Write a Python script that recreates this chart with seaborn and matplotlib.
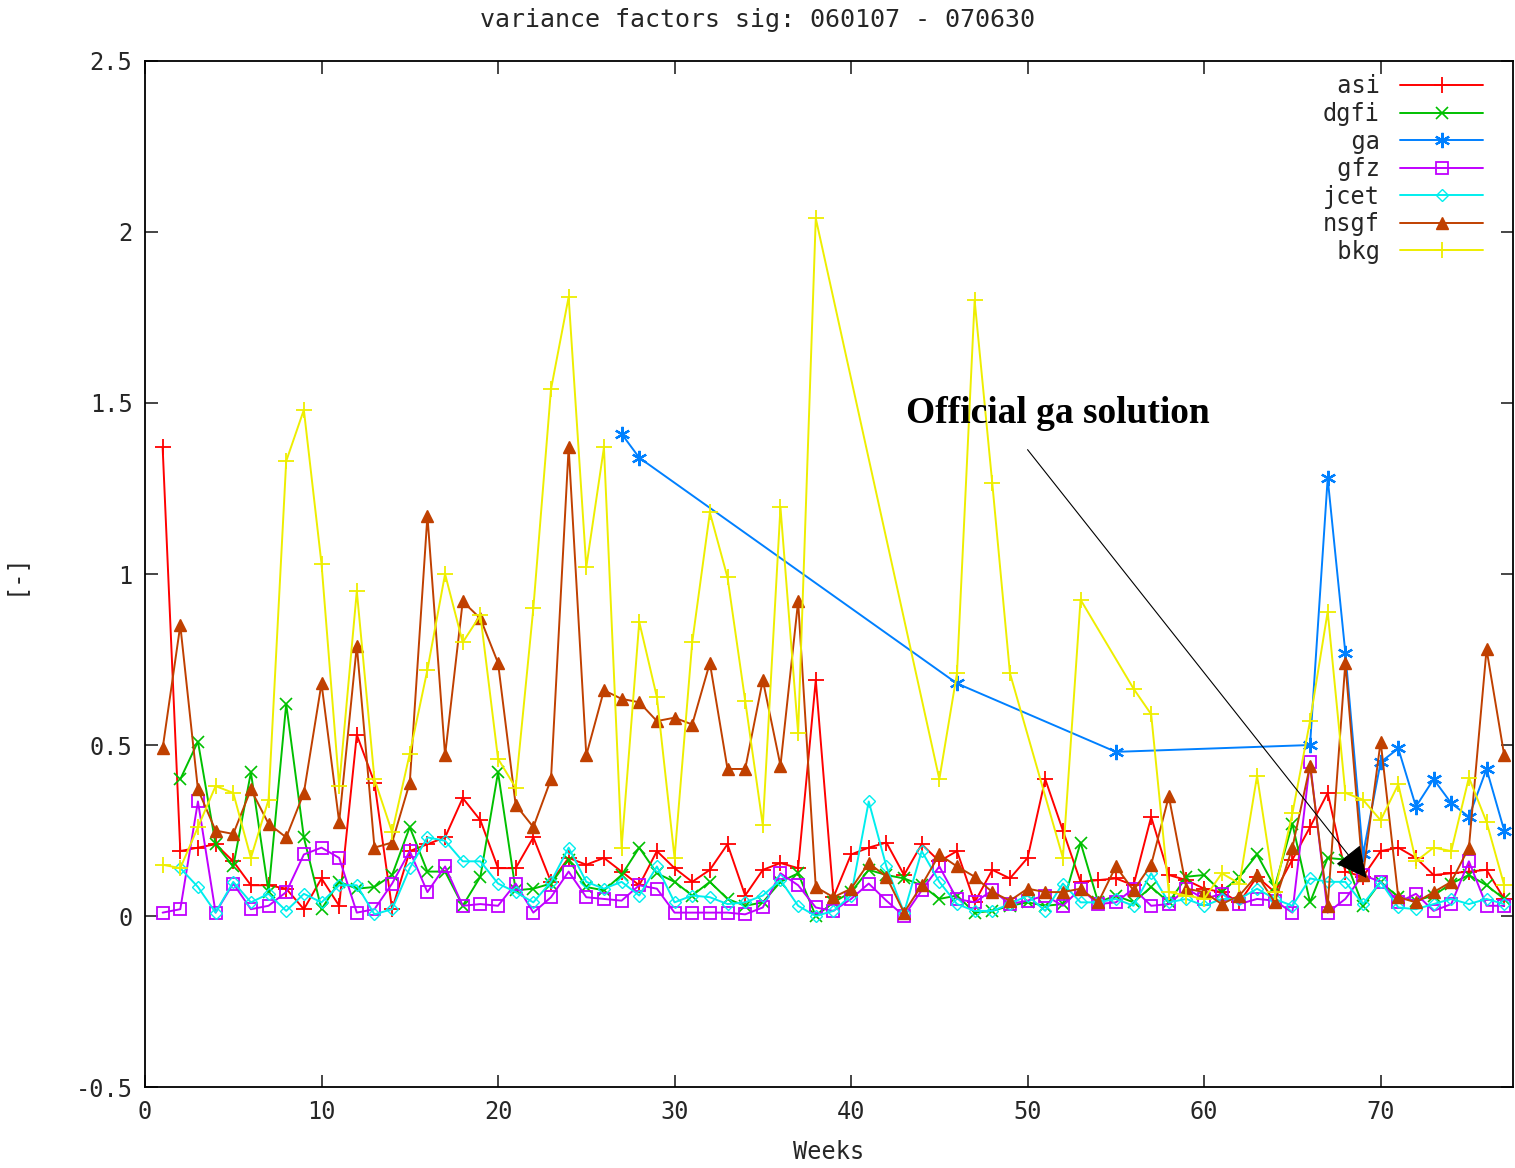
import numpy as np
import pandas as pd
import matplotlib
matplotlib.use('Agg')
from matplotlib import pyplot as plt
import seaborn as sns

# weekly variance factors
asi_w = list(range(1, 78))
asi = [1.37, 0.19, 0.20, 0.21, 0.16, 0.09, 0.09, 0.08, 0.02, 0.11,
       0.03, 0.53, 0.39, 0.02, 0.19, 0.21, 0.23, 0.345, 0.28, 0.14,
       0.14, 0.23, 0.10, 0.17, 0.15, 0.17, 0.13, 0.09, 0.19, 0.14,
       0.10, 0.135, 0.21, 0.06, 0.135, 0.155, 0.14, 0.69, 0.055, 0.18,
       0.20, 0.215, 0.12, 0.21, 0.16, 0.19, 0.04, 0.135, 0.11, 0.17,
       0.40, 0.25, 0.10, 0.105, 0.11, 0.09, 0.29, 0.12, 0.105, 0.08,
       0.07, 0.04, 0.115, 0.07, 0.165, 0.26, 0.36, 0.13, 0.115, 0.19,
       0.20, 0.17, 0.12, 0.125, 0.13, 0.135, 0.05]

dgfi_w = list(range(2, 78))
dgfi = [0.40, 0.51, 0.21, 0.145, 0.42, 0.07, 0.62, 0.23, 0.02,
        0.10, 0.08, 0.085, 0.12, 0.26, 0.13, 0.13, 0.03, 0.115, 0.42,
        0.075, 0.08, 0.095, 0.165, 0.085, 0.075, 0.12, 0.20, 0.125, 0.10,
        0.06, 0.10, 0.05, 0.03, 0.04, 0.10, 0.125, 0.0, 0.04, 0.07,
        0.135, 0.12, 0.11, 0.09, 0.05, 0.06, 0.01, 0.015, 0.03, 0.04,
        0.03, 0.035, 0.215, 0.04, 0.06, 0.04, 0.085, 0.04, 0.115, 0.12,
        0.07, 0.115, 0.18, 0.085, 0.27, 0.04, 0.17, 0.165, 0.03, 0.10,
        0.055, 0.045, 0.06, 0.095, 0.12, 0.09, 0.05]

ga_w = [27, 28, 46, 55, 66, 67, 68, 69, 70, 71, 72, 73, 74, 75, 76, 77]
ga = [1.41, 1.34, 0.68, 0.48, 0.50, 1.28, 0.77, 0.18, 0.45, 0.49,
      0.32, 0.40, 0.33, 0.29, 0.43, 0.25]

gfz_w = list(range(1, 78))
gfz = [0.01, 0.02, 0.335, 0.01, 0.095, 0.02, 0.03, 0.07, 0.18, 0.20,
       0.17, 0.01, 0.02, 0.095, 0.19, 0.07, 0.145, 0.03, 0.035, 0.03,
       0.095, 0.01, 0.055, 0.13, 0.055, 0.05, 0.045, 0.09, 0.08, 0.01,
       0.01, 0.01, 0.01, 0.005, 0.025, 0.125, 0.09, 0.025, 0.015, 0.05,
       0.095, 0.045, 0.0, 0.075, 0.145, 0.05, 0.04, 0.075, 0.035, 0.045,
       0.06, 0.03, 0.08, 0.035, 0.04, 0.08, 0.03, 0.035, 0.08, 0.05,
       0.065, 0.035, 0.05, 0.045, 0.01, 0.45, 0.01, 0.05, 0.12, 0.10,
       0.04, 0.065, 0.015, 0.035, 0.16, 0.03, 0.03]

jcet_w = list(range(2, 78))
jcet = [0.14, 0.085, 0.01, 0.10, 0.04, 0.065, 0.015, 0.065, 0.04,
        0.09, 0.09, 0.005, 0.02, 0.14, 0.23, 0.22, 0.16, 0.16, 0.095,
        0.07, 0.04, 0.10, 0.20, 0.10, 0.08, 0.10, 0.06, 0.145, 0.04,
        0.06, 0.055, 0.035, 0.04, 0.06, 0.105, 0.03, 0.0, 0.015, 0.06,
        0.335, 0.145, 0.01, 0.19, 0.10, 0.035, 0.015, 0.015, 0.035, 0.06,
        0.015, 0.095, 0.04, 0.04, 0.05, 0.03, 0.125, 0.04, 0.05, 0.03,
        0.05, 0.05, 0.08, 0.05, 0.03, 0.11, 0.10, 0.10, 0.035, 0.10,
        0.025, 0.02, 0.035, 0.05, 0.035, 0.05, 0.035]

nsgf_w = list(range(1, 78))
nsgf = [0.49, 0.85, 0.37, 0.25, 0.24, 0.37, 0.27, 0.23, 0.36, 0.68,
        0.275, 0.79, 0.20, 0.215, 0.39, 1.17, 0.47, 0.92, 0.87, 0.74,
        0.325, 0.26, 0.40, 1.37, 0.47, 0.66, 0.635, 0.625, 0.57, 0.58,
        0.56, 0.74, 0.43, 0.43, 0.69, 0.44, 0.92, 0.085, 0.055, 0.08,
        0.155, 0.115, 0.01, 0.09, 0.18, 0.145, 0.115, 0.07, 0.045, 0.08,
        0.07, 0.07, 0.08, 0.04, 0.145, 0.075, 0.15, 0.35, 0.08, 0.07,
        0.035, 0.06, 0.12, 0.04, 0.20, 0.44, 0.03, 0.74, 0.12, 0.51,
        0.055, 0.04, 0.07, 0.10, 0.20, 0.78, 0.47]

bkg_w = list(range(1, 39)) + [45, 46, 47, 48, 49, 52, 53, 56, 57] + \
    list(range(58, 78))
bkg = [0.15, 0.14, 0.26, 0.38, 0.36, 0.17, 0.34, 1.33, 1.48, 1.03,
       0.38, 0.95, 0.40, 0.245, 0.475, 0.72, 1.0, 0.80, 0.88, 0.46,
       0.375, 0.90, 1.54, 1.81, 1.02, 1.37, 0.20, 0.86, 0.64, 0.17,
       0.80, 1.18, 0.99, 0.63, 0.265, 1.195, 0.535, 2.04,
       0.40, 0.71, 1.80, 1.265, 0.71, 0.17, 0.925, 0.665, 0.59,
       0.07, 0.06, 0.05, 0.125, 0.095, 0.41, 0.07, 0.30, 0.57, 0.89,
       0.36, 0.34, 0.28, 0.385, 0.16, 0.20, 0.19, 0.405, 0.275, 0.09]

series = [
    ('asi', asi_w, asi, '#ff0000', dict(marker='+', ms=11, mew=1.3)),
    ('dgfi', dgfi_w, dgfi, '#00c000', dict(marker='x', ms=8, mew=1.2)),
    ('ga', ga_w, ga, '#0080ff', dict(marker=(6, 2, 0), ms=11, mew=1.6)),
    ('gfz', gfz_w, gfz, '#c000ff', dict(marker='s', ms=9, mew=1.3,
                                        mfc='none')),
    ('jcet', jcet_w, jcet, '#00eeee', dict(marker='D', ms=6, mew=1.0,
                                           mfc='none')),
    ('nsgf', nsgf_w, nsgf, '#c04000', dict(marker='^', ms=8, mew=1.0)),
    ('bkg', bkg_w, bkg, '#eeee00', dict(marker='+', ms=11, mew=1.3)),
]

sns.set_style('ticks')
mono = 'DejaVu Sans Mono'
plt.rcParams['font.family'] = mono

fig = plt.figure(figsize=(15.15, 11.68), dpi=100)
ax = fig.add_axes([0.0957, 0.0693, 0.9030, 0.8785])

for name, wk, vals, color, mk in series:
    df = pd.DataFrame({'week': wk, 'value': vals})
    sns.lineplot(data=df, x='week', y='value', ax=ax, color=color,
                 estimator=None, sort=False, lw=1.4, mec=color,
                 label=name.rjust(4), **mk)

ax.set_xlim(0, 77.5)
ax.set_ylim(-0.5, 2.5)
ax.set_xticks(np.arange(0, 80, 10))
ax.set_yticks([-0.5, 0, 0.5, 1, 1.5, 2, 2.5])
ax.set_yticklabels(['-0.5', '0', '0.5', '1', '1.5', '2', '2.5'])
ax.tick_params(direction='in', length=9, width=1.2, labelsize=17,
               top=True, right=True, pad=9)
for sp in ax.spines.values():
    sp.set_linewidth(1.3)
    sp.set_color('black')

ax.set_xlabel('Weeks', fontsize=17)
ax.set_ylabel('[-]', fontsize=17)
ax.xaxis.set_label_coords(0.5, -0.052)
ax.yaxis.set_label_coords(-0.087, 0.5)
fig.suptitle('variance factors sig: 060107 - 070630', fontsize=18,
             y=0.983, va='center')

leg = ax.legend(loc='upper right', bbox_to_anchor=(0.99, 1.003),
                markerfirst=False, frameon=False, fontsize=17,
                handlelength=3.5, handletextpad=0.85, labelspacing=0.15,
                borderaxespad=0.3)

# annotation pointing at the official ga solution
ax.annotate('', xy=(69.3, 0.105), xytext=(49.9, 1.37),
            arrowprops=dict(arrowstyle='-|>', mutation_scale=50,
                            lw=0.8, color='black'))
ax.text(43.1, 1.47, 'Official ga solution', fontsize=27,
        fontweight='bold', family='Liberation Serif', va='center',
        color='black')

fig.savefig('out.png', dpi=100)
